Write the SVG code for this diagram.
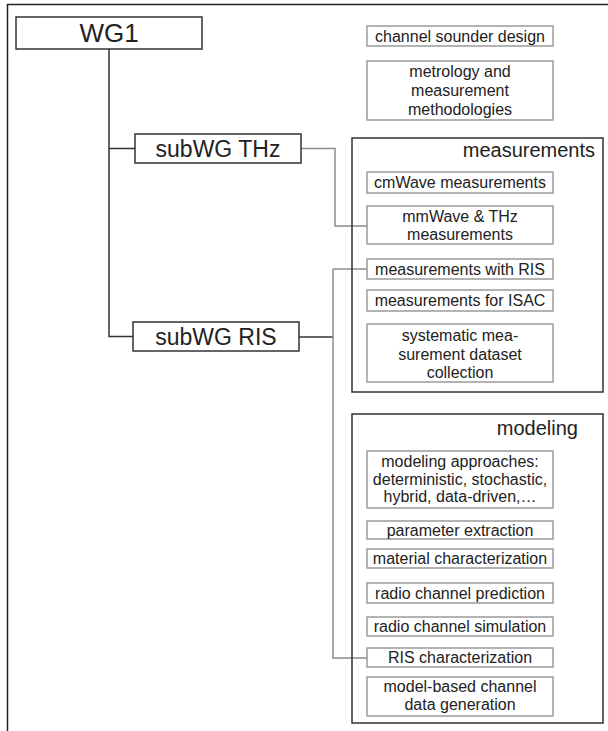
<svg xmlns="http://www.w3.org/2000/svg" width="608" height="731" viewBox="0 0 608 731">
<style>
.t{font-family:"Liberation Sans",Arial,sans-serif;fill:#222;}
.s{font-size:16px;text-anchor:middle;}
.main{fill:#fff;stroke:#333;stroke-width:1.5;}
.grp{fill:none;stroke:#333;stroke-width:1.5;}
.item{fill:#fff;stroke:#9a9a9a;stroke-width:1.5;}
.dk{fill:none;stroke:#333;stroke-width:1.5;}
.gr{fill:none;stroke:#8c8c8c;stroke-width:1.5;}
</style>
<rect x="0" y="0" width="608" height="731" fill="#fff"/>
<path d="M7.5,731 V4.5 H608" fill="none" stroke="#222" stroke-width="1.5"/>
<g id="connectors">
<path class="dk" d="M109,49 V336.5 H133"/>
<path class="dk" d="M109,148.5 H135"/>
<path class="gr" d="M301,148.5 H335 V226 H367"/>
<path class="dk" d="M299,337 H333"/>
<path class="gr" d="M333,269 V658 H367"/>
<path class="gr" d="M333,269 H367"/>
</g>
<g id="wg1"><rect class="main" x="16" y="17" width="186" height="32"/><text class="t" x="109" y="42" font-size="26" text-anchor="middle">WG1</text></g>
<g id="subwg-thz"><rect class="main" x="135" y="134" width="166" height="29"/><text class="t" x="218" y="156.5" font-size="23" text-anchor="middle">subWG THz</text></g>
<g id="subwg-ris"><rect class="main" x="133" y="322" width="166" height="29"/><text class="t" x="216" y="344.5" font-size="23" text-anchor="middle">subWG RIS</text></g>
<g id="channel-sounder"><rect class="item" x="367" y="26" width="186" height="20"/><text class="t s" x="460" y="41.5">channel sounder design</text></g>
<g id="metrology"><rect class="item" x="367" y="61" width="186" height="59"/><text class="t s" x="460" y="76.5">metrology and</text><text class="t s" x="460" y="95.5">measurement</text><text class="t s" x="460" y="114.5">methodologies</text></g>
<g id="measurements"><rect class="grp" x="352" y="138" width="251" height="254"/><text class="t" x="595" y="157" font-size="20" text-anchor="end">measurements</text>
<g id="cmwave"><rect class="item" x="367" y="172" width="186" height="21"/><text class="t s" x="460" y="188">cmWave measurements</text></g>
<g id="mmwave"><rect class="item" x="367" y="206" width="186" height="38"/><text class="t s" x="460" y="222">mmWave &amp; THz</text><text class="t s" x="460" y="240">measurements</text></g>
<g id="meas-ris"><rect class="item" x="367" y="259" width="186" height="20"/><text class="t s" x="460" y="274.5">measurements with RIS</text></g>
<g id="meas-isac"><rect class="item" x="367" y="290" width="186" height="21"/><text class="t s" x="460" y="306">measurements for ISAC</text></g>
<g id="dataset"><rect class="item" x="367" y="324" width="186" height="58"/><text class="t s" x="460" y="341">systematic mea-</text><text class="t s" x="460" y="359.5">surement dataset</text><text class="t s" x="460" y="378">collection</text></g>
</g>
<g id="modeling"><rect class="grp" x="352" y="414" width="251" height="309"/><text class="t" x="578" y="435" font-size="20" text-anchor="end">modeling</text>
<g id="approaches"><rect class="item" x="367" y="451" width="186" height="57"/><text class="t s" x="460" y="467">modeling approaches:</text><text class="t s" x="460" y="484.5">deterministic, stochastic,</text><text class="t s" x="460" y="502">hybrid, data-driven,…</text></g>
<g id="param"><rect class="item" x="367" y="521" width="186" height="18"/><text class="t s" x="460" y="535.5">parameter extraction</text></g>
<g id="material"><rect class="item" x="367" y="549" width="186" height="19"/><text class="t s" x="460" y="564">material characterization</text></g>
<g id="prediction"><rect class="item" x="367" y="583" width="186" height="20"/><text class="t s" x="460" y="598.5">radio channel prediction</text></g>
<g id="simulation"><rect class="item" x="367" y="617" width="186" height="19"/><text class="t s" x="460" y="632">radio channel simulation</text></g>
<g id="ris-char"><rect class="item" x="367" y="648" width="186" height="19"/><text class="t s" x="460" y="663">RIS characterization</text></g>
<g id="model-based"><rect class="item" x="367" y="677" width="186" height="39"/><text class="t s" x="460" y="692">model-based channel</text><text class="t s" x="460" y="710">data generation</text></g>
</g>
</svg>
